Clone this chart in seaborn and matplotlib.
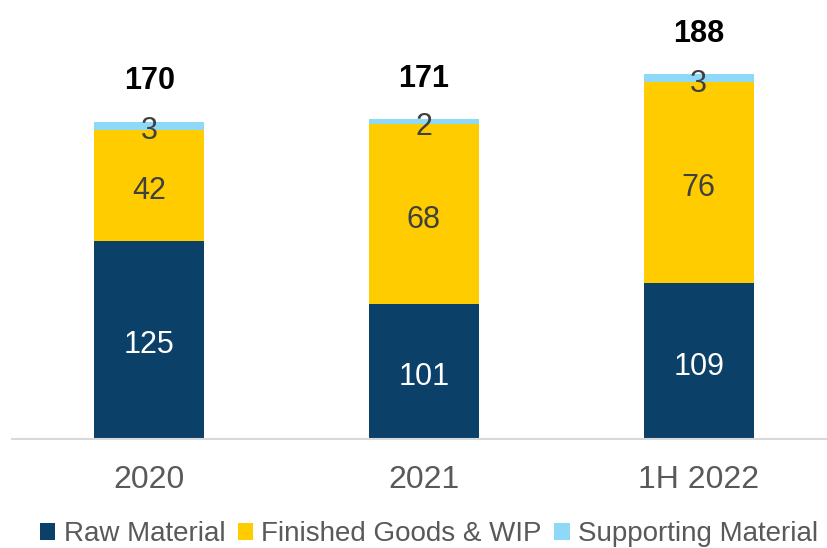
import matplotlib
matplotlib.use("Agg")
import matplotlib.pyplot as plt
import seaborn as sns
import pandas as pd
import numpy as np
from matplotlib.patches import Patch

periods = ["2020", "2021", "1H 2022"]
raw_material = [125, 101, 109]
finished_goods = [42, 68, 76]
supporting = [3, 2, 3]
totals = [170, 171, 188]
series_names = ["Raw Material", "Finished Goods & WIP", "Supporting Material"]
colors = ["#0B4068", "#FFCC00", "#8ED8F8"]
label_colors = ["white", "#404040", "#404040"]

sns.set_theme(style="white")
plt.rcParams["font.family"] = ["Liberation Sans", "DejaVu Sans"]

fig = plt.figure(figsize=(8.28, 5.48), dpi=100)
ax = fig.add_axes([12 / 828, 109 / 548, 824 / 828, 439 / 548])
ymin, ymax = 50, 216

df = pd.DataFrame({"period": periods, "raw": raw_material,
                   "fg": finished_goods, "sup": supporting})
bottoms = np.zeros(len(periods))
for col, name, c, lc in zip(["raw", "fg", "sup"], series_names, colors, label_colors):
    vals = df[col].to_numpy(dtype=float)
    sns.barplot(data=df, x="period", y=col, color=c, bottom=bottoms,
                width=0.4, ax=ax, saturation=1, linewidth=0)
    for i, v in enumerate(vals):
        lo = max(bottoms[i], ymin)
        hi = bottoms[i] + v
        ax.annotate(f"{int(v)}", xy=(i, (lo + hi) / 2), xytext=(0, -4),
                    textcoords="offset points", ha="center", va="center",
                    fontsize=22, color=lc)
    bottoms = bottoms + vals

for i, t in enumerate(totals):
    ax.annotate(f"{t}", xy=(i, bottoms[i]), xytext=(0, 29), textcoords="offset points",
                ha="center", va="center", fontsize=22, fontweight="bold", color="black")

ax.set_xlim(-0.5, 2.5)
ax.set_ylim(ymin, ymax)
ax.set_yticks([])
ax.set_xlabel("")
ax.set_ylabel("")
for s in ["top", "right", "left"]:
    ax.spines[s].set_visible(False)
ax.spines["bottom"].set_color("#D9D9D9")
ax.spines["bottom"].set_linewidth(1.5)
ax.tick_params(axis="x", length=0, labelsize=23, labelcolor="#595959", pad=19)

handles = [Patch(facecolor=c, edgecolor="none") for c in colors]
fig.legend(handles, series_names, loc="center", bbox_to_anchor=(429 / 828, 1 - 534 / 548),
           ncol=3, frameon=False, fontsize=20, handlelength=0.55, handleheight=0.55,
           handletextpad=0.3, columnspacing=0.45, labelcolor="#595959")

fig.savefig("out.png", dpi=100)
